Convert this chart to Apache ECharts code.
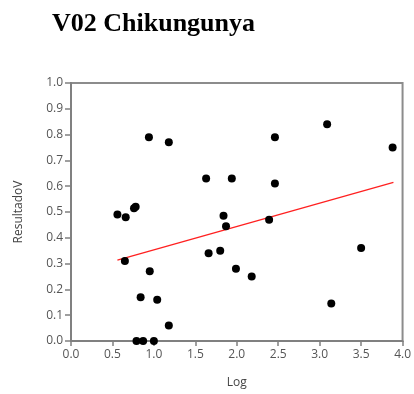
<!DOCTYPE html>
<html>
<head>
<meta charset="utf-8">
<script src="https://cdn.jsdelivr.net/npm/echarts@6/dist/echarts.min.js"></script>
<style>
  html, body { margin: 0; padding: 0; background: #fff; }
  #chart { width: 414px; height: 394px; }
</style>
</head>
<body>
<div id="chart"></div>
<script>
// Log values (x) and ResultadoV values (y) for each observation
const logValues = [
  0.56, 0.66, 0.65, 0.76, 0.78, 0.79, 0.87, 0.84, 0.94, 0.95,
  1.00, 1.04, 1.18, 1.18, 1.63, 1.66, 1.80, 1.84, 1.87, 1.94,
  1.99, 2.18, 2.39, 2.46, 2.46, 3.09, 3.14, 3.50, 3.88
];
const resultadoV = [
  0.49, 0.48, 0.31, 0.515, 0.52, 0.0, 0.0, 0.17, 0.79, 0.27,
  0.0, 0.16, 0.77, 0.06, 0.63, 0.34, 0.35, 0.485, 0.445, 0.63,
  0.28, 0.25, 0.47, 0.79, 0.61, 0.84, 0.145, 0.36, 0.75
];
// Linear fit endpoints
const fitX = [0.56, 3.89];
const fitY = [0.313, 0.615];

const xTicks = ['0.0', '0.5', '1.0', '1.5', '2.0', '2.5', '3.0', '3.5', '4.0'];
const yTicks = ['0.0', '0.1', '0.2', '0.3', '0.4', '0.5', '0.6', '0.7', '0.8', '0.9', '1.0'];

const points = logValues.map((x, i) => [x, resultadoV[i]]);
const fitLine = fitX.map((x, i) => [x, fitY[i]]);

const labelFont = '"Open Sans", "Noto Sans", sans-serif';
const axisGray = '#808080';

const chart = echarts.init(document.getElementById('chart'), null, { renderer: 'canvas' });
chart.setOption({
  animation: false,
  title: {
    text: 'V02 Chikungunya',
    left: 47,
    top: 6,
    textStyle: {
      fontFamily: '"Liberation Serif", "Times New Roman", serif',
      fontWeight: 'bold',
      fontSize: 26,
      color: '#000'
    }
  },
  grid: {
    left: 71, right: 11, top: 83, bottom: 49,
    show: true,
    borderColor: '#8c8c8c',
    borderWidth: 2,
    backgroundColor: '#fff'
  },
  xAxis: {
    type: 'value',
    min: 0, max: 4, interval: 0.5,
    name: 'Log',
    nameLocation: 'middle',
    nameGap: 36,
    nameTextStyle: { fontFamily: labelFont, fontSize: 12, color: '#444' },
    axisLine: { show: true, lineStyle: { color: axisGray, width: 2 } },
    axisTick: { show: true, length: 5, lineStyle: { color: axisGray, width: 1.5 } },
    splitLine: { show: false },
    axisLabel: {
      fontFamily: labelFont, fontSize: 12, color: '#555', margin: 8,
      formatter: (v) => xTicks[Math.round(v / 0.5)]
    }
  },
  yAxis: {
    type: 'value',
    min: 0, max: 1, interval: 0.1,
    name: 'ResultadoV',
    nameLocation: 'middle',
    nameGap: 46,
    nameTextStyle: { fontFamily: labelFont, fontSize: 12, color: '#444' },
    axisLine: { show: true, lineStyle: { color: axisGray, width: 2 } },
    axisTick: { show: true, length: 6, lineStyle: { color: axisGray, width: 1.5 } },
    splitLine: { show: false },
    axisLabel: {
      fontFamily: labelFont, fontSize: 12, color: '#555', margin: 8,
      formatter: (v) => yTicks[Math.round(v / 0.1)]
    }
  },
  series: [
    {
      type: 'line',
      data: fitLine,
      symbol: 'none',
      lineStyle: { color: '#ff2020', width: 1.3 },
      z: 2
    },
    {
      type: 'scatter',
      data: points,
      symbol: 'circle',
      symbolSize: 8,
      itemStyle: { color: '#000', opacity: 1 },
      z: 3
    }
  ]
});
</script>
</body>
</html>
